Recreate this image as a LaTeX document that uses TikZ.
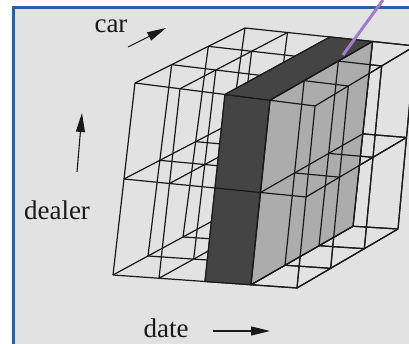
\documentclass[tikz,border=0pt]{standalone}
\usepackage{fontspec}
\setmainfont{Liberation Serif}
\usetikzlibrary{arrows.meta,calc}
\definecolor{ink}{RGB}{25,25,25}
\definecolor{paper}{RGB}{226,226,226}
\definecolor{frameblue}{RGB}{45,95,155}
\definecolor{slabdark}{RGB}{68,68,68}
\definecolor{slablight}{RGB}{172,172,172}
\definecolor{pointer}{RGB}{160,125,200}
\tikzset{
  wire/.style={draw=ink, line width=1.2pt},
  face/.style={draw=ink, line width=1.2pt, line join=round},
  axisarrow/.style={-{Triangle[length=19pt,width=9pt]}, line width=1.1pt, color=ink},
  lbl/.style={font=\fontsize{27}{30}\selectfont, text=ink, inner sep=0pt},
  pointerline/.style={draw=pointer, line width=3pt},
  frameline/.style={draw=frameblue, line width=3pt},
}

\begin{document}
\begin{tikzpicture}[x=1pt,y=1pt]
  \useasboundingbox (0,0) rectangle (409,344);
  \fill[white] (0,0) rectangle (409,344);
  \fill[paper] (13,0) rectangle (409,336.5);
  \draw[frameline] (13,0) -- (13,336.5) -- (409,336.5);
  \foreach \d in {0,...,4} {
    \foreach \c in {0,...,3} {
      \foreach \h in {0,1,2} {
        \pgfmathsetmacro\u{\d/4}
        \pgfmathsetmacro\v{\c/3}
        \pgfmathsetmacro\w{\h/2}
        \pgfmathsetmacro\px{(1-\v)*((1-\w)*((1-\u)*113+\u*297)+\w*((1-\u)*135+\u*315))+\v*((1-\w)*((1-\u)*218+\u*398)+\w*((1-\u)*245+\u*415))}
        \pgfmathsetmacro\py{(1-\v)*((1-\w)*((1-\u)*69+\u*56)+\w*((1-\u)*261+\u*238))+\v*((1-\w)*((1-\u)*126+\u*115)+\w*((1-\u)*316+\u*298))}
        \coordinate (p\d\c\h) at (\px,\py);
      }
    }
  }
  \foreach \c in {0,...,3} \foreach \h in {0,1,2} \draw[wire] (p0\c\h) -- (p4\c\h);
  \foreach \d in {0,...,4} \foreach \h in {0,1,2} \draw[wire] (p\d0\h) -- (p\d3\h);
  \foreach \d in {0,...,4} \foreach \c in {0,...,3} \draw[wire] (p\d\c0) -- (p\d\c2);
  \filldraw[face, fill=slabdark] (p200) -- (p300) -- (p302) -- (p202) -- cycle;
  \filldraw[face, fill=slabdark] (p202) -- (p302) -- (p332) -- (p232) -- cycle;
  \filldraw[face, fill=slablight] (p300) -- (p330) -- (p332) -- (p302) -- cycle;
  \draw[wire] (p201) -- (p301);
  \foreach \c in {0,...,3} \foreach \h in {0,1,2} \draw[wire] (p3\c\h) -- (p4\c\h);
  \foreach \d in {3,4} \foreach \h in {0,1,2} \draw[wire] (p\d0\h) -- (p\d3\h);
  \foreach \d in {3,4} \foreach \c in {0,...,3} \draw[wire] (p\d\c0) -- (p\d\c2);
  \node[lbl] (car) at (111,318) {car};
  \node[lbl] (dealer) at (57,134) {dealer};
  \node[lbl] (date) at (166,16) {date};
  \coordinate (car-s) at (128,297);
  \coordinate (car-e) at (166,316);
  \coordinate (dealer-s) at (77,172);
  \coordinate (dealer-e) at (82,231);
  \coordinate (date-s) at (213,13);
  \coordinate (date-e) at (270,13);
  \draw[axisarrow] (car-s) -- (car-e);
  \draw[axisarrow] (dealer-s) -- (dealer-e);
  \draw[axisarrow] (date-s) -- (date-e);
  \coordinate (ptr-a) at (383,344);
  \coordinate (ptr-b) at (343,289);
  \draw[pointerline] (ptr-a) -- (ptr-b);
\end{tikzpicture}
\end{document}
